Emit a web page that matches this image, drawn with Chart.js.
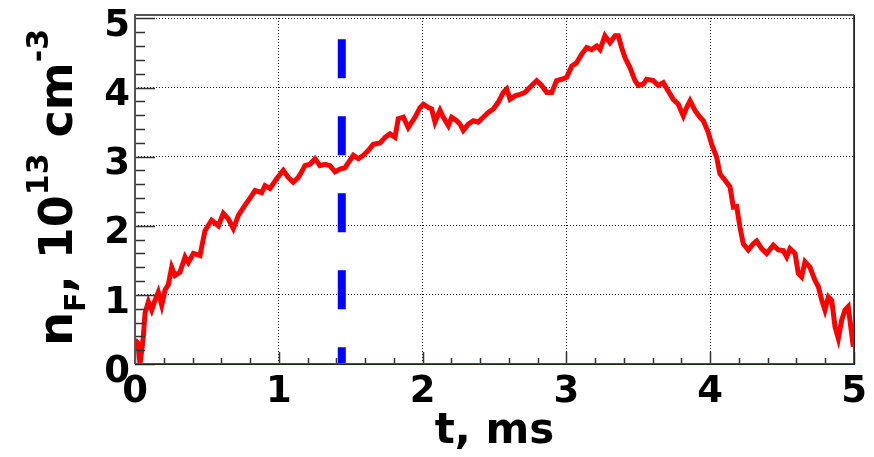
<!DOCTYPE html>
<html>
<head>
<meta charset="utf-8">
<script src="https://cdn.jsdelivr.net/npm/chart.js@4.4.0/dist/chart.umd.min.js"></script>
<style>
  html, body { margin: 0; padding: 0; background: #fff; }
</style>
</head>
<body>
<canvas id="densityChart" width="874" height="457"></canvas>
<script>
// time axis, ms
const timeMs = [
  0, 0.02, 0.035, 0.05, 0.058, 0.07, 0.093, 0.116, 0.139, 0.162, 0.186, 0.209, 0.232, 0.255, 0.278, 0.313, 0.348,
  0.371, 0.406, 0.452, 0.487, 0.533, 0.58, 0.614, 0.649, 0.684, 0.719, 0.765, 0.8, 0.835, 0.881, 0.904, 0.939, 0.985,
  1.031, 1.066, 1.1, 1.136, 1.159, 1.182, 1.217, 1.252, 1.286, 1.321, 1.356, 1.391, 1.426, 1.46, 1.483, 1.518,
  1.553, 1.588, 1.622, 1.657, 1.704, 1.739, 1.773, 1.808, 1.831, 1.866, 1.9,
  1.947, 1.982, 2.005, 2.04, 2.063, 2.086, 2.121, 2.144, 2.179, 2.202, 2.237, 2.26, 2.283, 2.318, 2.353, 2.387,
  2.422, 2.457, 2.492, 2.527, 2.561, 2.585, 2.608, 2.643, 2.677, 2.712, 2.735, 2.759, 2.793, 2.828, 2.863, 2.898, 2.932,
  2.967, 3.002, 3.037, 3.071, 3.106, 3.141, 3.176, 3.211, 3.234, 3.268, 3.303, 3.338, 3.361, 3.384, 3.408, 3.442,
  3.477, 3.5, 3.535, 3.558, 3.604, 3.639, 3.674, 3.708, 3.743, 3.778, 3.813, 3.836, 3.86, 3.894, 3.929,
  3.952, 3.987, 4.01, 4.045, 4.068, 4.103, 4.138, 4.161, 4.184, 4.207, 4.23, 4.265, 4.3, 4.323, 4.358, 4.393,
  4.439, 4.474, 4.508, 4.532, 4.555, 4.59, 4.613, 4.636, 4.659, 4.694, 4.729, 4.752, 4.776, 4.798, 4.822, 4.845,
  4.868, 4.891, 4.914, 4.937, 4.96, 4.972, 4.995
];
// n_F, 10^13 cm^-3
const densityF = [
  0.35, 0.3, 0.0, 0.25, 0.4, 0.74, 0.9, 0.78, 0.92, 1.04, 0.85, 1.07, 1.15, 1.4, 1.28, 1.33, 1.55,
  1.47, 1.6, 1.57, 1.93, 2.08, 2.0, 2.18, 2.1, 1.96, 2.15, 2.3, 2.4, 2.51, 2.48, 2.58, 2.54, 2.68,
  2.8, 2.7, 2.63, 2.7, 2.78, 2.87, 2.89, 2.97, 2.87, 2.89, 2.87, 2.78, 2.82, 2.84, 2.91, 3.02,
  2.97, 3.02, 3.09, 3.18, 3.2, 3.28, 3.33, 3.28, 3.55, 3.57, 3.42,
  3.57, 3.71, 3.76, 3.71, 3.69, 3.5, 3.67, 3.57, 3.45, 3.57, 3.52, 3.47, 3.38, 3.47, 3.52, 3.5,
  3.57, 3.64, 3.69, 3.79, 3.93, 3.98, 3.83, 3.88, 3.9, 3.93, 3.98, 4.03, 4.1, 4.03, 3.93, 3.93, 4.1,
  4.12, 4.15, 4.31, 4.36, 4.48, 4.58, 4.55, 4.6, 4.55, 4.75, 4.65, 4.75, 4.75, 4.58, 4.43, 4.29,
  4.1, 4.03, 4.05, 4.12, 4.1, 4.03, 4.07, 3.95, 3.83, 3.76, 3.59, 3.71, 3.81, 3.67, 3.57,
  3.52, 3.35, 3.18, 2.99, 2.75, 2.66, 2.56, 2.27, 2.28, 1.98, 1.74, 1.65, 1.74, 1.78, 1.67, 1.6,
  1.72, 1.65, 1.64, 1.55, 1.67, 1.6, 1.31, 1.26, 1.48, 1.4, 1.21, 1.12, 0.92, 0.78, 0.97, 0.92,
  0.54, 0.37, 0.63, 0.78, 0.83, 0.63, 0.25
];
const xTickValues = [0, 1, 2, 3, 4, 5];
const yTickValues = [0, 1, 2, 3, 4, 5];
// vertical dashed marker
const markerTime = 1.438;
const markerSpan = [4.7, 0];

const tickFont = { family: 'DejaVu Sans', size: 37, weight: 'bold' };

// ROOT-like frame: ticks inside, frame lines, rotated y title with sub/superscripts
const rootFrame = {
  id: 'rootFrame',
  afterDatasetsDraw(chart) {
    const { ctx, chartArea: a, scales: { x, y } } = chart;
    ctx.save();
    ctx.strokeStyle = '#333';
    ctx.lineWidth = 1.5;
    ctx.beginPath();
    for (let i = 0; i <= 25; i++) {
      const v = i / 5;
      const major = i % 5 === 0;
      const py = Math.round(y.getPixelForValue(v)) + 0.5;
      ctx.moveTo(a.left, py);
      ctx.lineTo(a.left + (major ? 20 : 10), py);
      const px = Math.round(x.getPixelForValue(v)) + 0.5;
      ctx.moveTo(px, a.bottom);
      ctx.lineTo(px, a.bottom - (major ? 12 : 6));
    }
    ctx.stroke();

    ctx.lineWidth = 2;
    ctx.strokeStyle = '#555';
    ctx.beginPath();
    ctx.moveTo(a.left, a.bottom);
    ctx.lineTo(a.left, a.top);
    ctx.lineTo(a.right, a.top);
    ctx.stroke();
    ctx.strokeStyle = '#222';
    ctx.beginPath();
    ctx.moveTo(a.left, a.bottom);
    ctx.lineTo(a.right, a.bottom);
    ctx.lineTo(a.right, a.top);
    ctx.stroke();
    ctx.strokeStyle = '#ff0000';
    ctx.lineWidth = 1;
    ctx.beginPath();
    ctx.moveTo(a.left, a.bottom - 0.5);
    ctx.lineTo(a.right - 0.5, a.bottom - 0.5);
    ctx.lineTo(a.right - 0.5, a.top);
    ctx.stroke();
    ctx.restore();
  },
  afterDraw(chart) {
    const { ctx, chartArea: a } = chart;
    const parts = [
      { text: 'n', size: 48, shift: 0 },
      { text: 'F', size: 28, shift: 13 },
      { text: ', 10', size: 46, shift: 0 },
      { text: '13', size: 30, shift: -24 },
      { text: ' cm', size: 46, shift: 0 },
      { text: '-3', size: 30, shift: -24 }
    ];
    ctx.save();
    ctx.fillStyle = '#000';
    let total = 0;
    parts.forEach(p => {
      ctx.font = `bold ${p.size}px "DejaVu Sans"`;
      p.w = ctx.measureText(p.text).width;
      total += p.w;
    });
    ctx.translate(72, (a.top + a.bottom) / 2 - 2);
    ctx.rotate(-Math.PI / 2);
    ctx.textBaseline = 'alphabetic';
    let cx = -total / 2;
    parts.forEach(p => {
      ctx.font = `bold ${p.size}px "DejaVu Sans"`;
      ctx.fillText(p.text, cx, p.shift);
      cx += p.w;
    });
    ctx.restore();
  }
};

const ctx = document.getElementById('densityChart').getContext('2d');
const densityChart = new Chart(ctx, {
  type: 'line',
  data: {
    datasets: [{
      label: 'n_F',
      data: timeMs.map((t, i) => ({ x: t, y: densityF[i] })),
      borderColor: '#ff0000',
      borderWidth: 5,
      borderJoinStyle: 'miter',
      pointRadius: 0,
      tension: 0,
      fill: false
    }, {
      label: 'marker',
      data: markerSpan.map(v => ({ x: markerTime, y: v })),
      borderColor: '#0000ff',
      borderWidth: 8,
      borderDash: [39, 38],
      pointRadius: 0,
      fill: false
    }]
  },
  options: {
    responsive: false,
    animation: false,
    devicePixelRatio: 1,
    layout: { padding: { left: 0, top: 15, right: 20, bottom: 0 } },
    plugins: { legend: { display: false }, tooltip: { enabled: false } },
    scales: {
      x: {
        type: 'linear',
        min: 0,
        max: 5,
        afterBuildTicks: s => { s.ticks = xTickValues.map(v => ({ value: v })); },
        afterFit: s => { s.height = 93; s.paddingLeft = 0; s.paddingRight = 0; },
        grid: { color: '#222', lineWidth: 1, drawTicks: false },
        border: { display: false, dash: [1, 2] },
        ticks: { font: tickFont, color: '#000', padding: 6, maxRotation: 0 },
        title: {
          display: true,
          text: 't, ms',
          color: '#000',
          font: { family: 'DejaVu Sans', size: 42, weight: 'bold' },
          padding: { top: 0, bottom: 0 }
        }
      },
      y: {
        type: 'linear',
        min: 0,
        max: 5.05,
        afterBuildTicks: s => { s.ticks = yTickValues.map(v => ({ value: v })); },
        afterFit: s => { s.width = 135; s.paddingTop = 0; s.paddingBottom = 0; },
        grid: { color: '#222', lineWidth: 1, drawTicks: false },
        border: { display: false, dash: [1, 2] },
        ticks: { font: tickFont, color: '#000', padding: 5, labelOffset: 8 }
      }
    }
  },
  plugins: [rootFrame]
});
</script>
</body>
</html>
